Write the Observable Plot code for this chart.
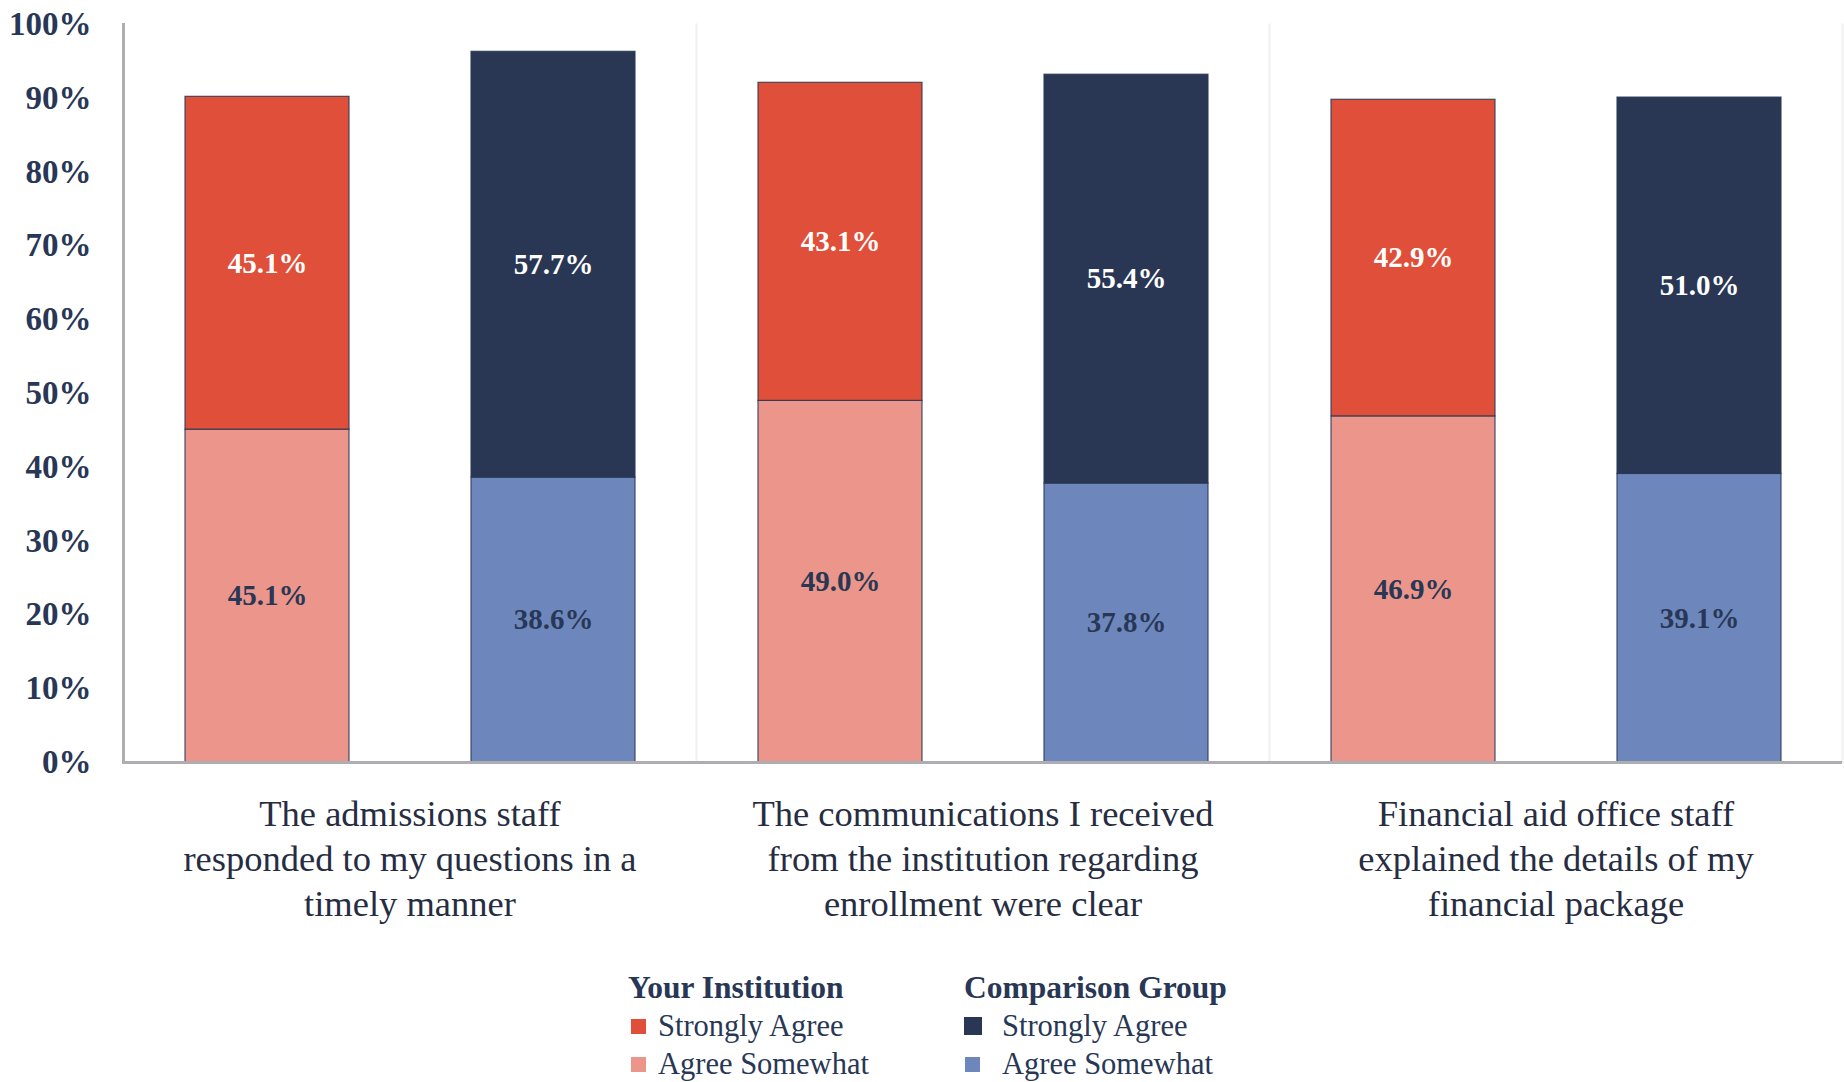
<!DOCTYPE html>
<html>
<head>
<meta charset="utf-8">
<script src="https://cdn.jsdelivr.net/npm/d3@7"></script>
<script src="https://cdn.jsdelivr.net/npm/@observablehq/plot@0.6"></script>
<style>
  html, body { margin: 0; padding: 0; background: #ffffff; overflow: hidden; }
  #wrap { position: relative; width: 1844px; height: 1082px; }
  #legend { position: absolute; left: 0; top: 0; font-family: "Liberation Serif", serif; color: #283755; }
  .col { position: absolute; }
  .hdr { font-weight: bold; font-size: 31.5px; line-height: 38px; white-space: nowrap; }
  .item { font-size: 30.5px; line-height: 38px; white-space: nowrap; position: relative; }
  .sw { position: absolute; top: 12px; width: 15px; height: 15px; box-sizing: border-box; }
</style>
</head>
<body>
<div id="wrap"><div id="chart"></div><div id="legend"></div></div>
<script>
// ---- data ----
const questions = [
  "The admissions staff responded to my questions in a timely manner",
  "The communications I received from the institution regarding enrollment were clear",
  "Financial aid office staff explained the details of my financial package"
];
const questionLines = [
  "The admissions staff\nresponded to my questions in a\ntimely manner",
  "The communications I received\nfrom the institution regarding\nenrollment were clear",
  "Financial aid office staff\nexplained the details of my\nfinancial package"
];
const groups = ["Your Institution", "Comparison Group"];
const levels = ["Agree Somewhat", "Strongly Agree"];

const yourAgreeSomewhat = [45.1, 49.0, 46.9];
const yourStronglyAgree = [45.1, 43.1, 42.9];
const compAgreeSomewhat = [38.6, 37.8, 39.1];
const compStronglyAgree = [57.7, 55.4, 51.0];

const yTicks = [0, 10, 20, 30, 40, 50, 60, 70, 80, 90, 100];

// ---- styles ----
const seriesKeys = [
  "Your Institution|Strongly Agree",
  "Your Institution|Agree Somewhat",
  "Comparison Group|Strongly Agree",
  "Comparison Group|Agree Somewhat"
];
const seriesColors = ["#E04F39", "#EC958A", "#293755", "#6D87BD"];
const navy = "#283755";

// ---- table ----
const valuesBy = {
  "Your Institution": {"Agree Somewhat": yourAgreeSomewhat, "Strongly Agree": yourStronglyAgree},
  "Comparison Group": {"Agree Somewhat": compAgreeSomewhat, "Strongly Agree": compStronglyAgree}
};
const rows = [];
questions.forEach((q, i) => {
  groups.forEach(g => {
    levels.forEach(l => {
      rows.push({question: q, group: g, level: l, key: g + "|" + l, value: valuesBy[g][l][i]});
    });
  });
});

const stackOpts = {fx: "question", x: "group", y: "value", order: null};
const labelFor = level => d => d.level === level ? d.value.toFixed(1) + "%" : null;

const chart = Plot.plot({
  width: 1844,
  height: 940,
  marginLeft: 123,
  marginRight: 2,
  marginTop: 24,
  marginBottom: 178,
  style: {fontFamily: "Liberation Serif, serif", background: "#ffffff"},
  fx: {domain: questions, padding: 0, label: null},
  x: {domain: groups, paddingInner: 0.428, paddingOuter: 0.214, axis: null},
  y: {domain: [0, 100], label: null},
  color: {domain: seriesKeys, range: seriesColors},
  marks: [
    Plot.frame({anchor: "right", stroke: "#F0F0F0", strokeWidth: 2}),
    Plot.barY(rows, Plot.stackY({...stackOpts, fill: "key", stroke: navy, strokeWidth: 1.2, strokeOpacity: 0.85})),
    Plot.text(rows, Plot.stackY({
      ...stackOpts, text: labelFor("Strongly Agree"), fill: "white",
      fontSize: 29, fontWeight: "bold"
    })),
    Plot.text(rows, Plot.stackY({
      ...stackOpts, text: labelFor("Agree Somewhat"), fill: navy,
      fontSize: 29, fontWeight: "bold"
    })),
    Plot.ruleY([0], {stroke: "#ADADB2", strokeWidth: 3}),
    Plot.frame({anchor: "left", facet: "super", stroke: "#ADADB2", strokeWidth: 3}),
    Plot.axisY({ticks: yTicks, tickFormat: d => d + "%", tickSize: 0, tickPadding: 32,
      fontSize: 33, fontWeight: "bold", fill: navy, label: null}),
    Plot.axisFx({anchor: "bottom", tickSize: 0, tickPadding: 31, tickFormat: q => questionLines[questions.indexOf(q)],
      fontSize: 36.5, lineHeight: 1.24, fill: "#262d42", label: null})
  ]
});
document.getElementById("chart").appendChild(chart);

// ---- legend (HTML, below the svg) ----
const legend = document.getElementById("legend");
const legendCols = [
  {group: groups[0], left: 628, swLeft: 3, textLeft: 30},
  {group: groups[1], left: 964, swLeft: 1, textLeft: 38}
];
legendCols.forEach(c => {
  const col = document.createElement("div");
  col.className = "col";
  col.style.left = c.left + "px";
  col.style.top = "969px";
  const h = document.createElement("div");
  h.className = "hdr";
  h.textContent = c.group;
  col.appendChild(h);
  ["Strongly Agree", "Agree Somewhat"].forEach(l => {
    const it = document.createElement("div");
    it.className = "item";
    const sw = document.createElement("div");
    sw.className = "sw";
    sw.style.left = c.swLeft + "px";
    sw.style.background = seriesColors[seriesKeys.indexOf(c.group + "|" + l)];
    if (c.group === groups[1] && l === "Strongly Agree") { sw.style.width = "18px"; sw.style.height = "18px"; sw.style.top = "10px"; sw.style.left = "0px"; }
    it.appendChild(sw);
    const t = document.createElement("span");
    t.style.marginLeft = c.textLeft + "px";
    t.textContent = l;
    it.appendChild(t);
    col.appendChild(it);
  });
  legend.appendChild(col);
});
</script>
</body>
</html>
